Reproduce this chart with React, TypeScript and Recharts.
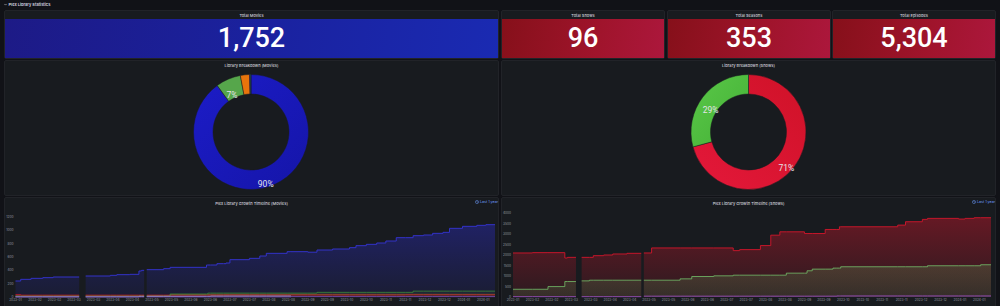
import React from 'react';
import { PieChart, Pie, Cell, AreaChart, Area, XAxis, YAxis } from 'recharts';

const FONT = 'Inter, "Noto Sans", sans-serif';
const NUM_FONT = 'Roboto, Inter, sans-serif';

// stat row
const statTitles = ['Total Movies', 'Total Shows', 'Total Seasons', 'Total Episodes'];
const statValues = [1752, 96, 353, 5304];

// library breakdown pies
const movieLibraries = ['Movies', 'Kids Movies', '4K Movies', 'Documentaries', 'Concerts'];
const movieCounts = [1577, 123, 45, 4, 3];
const movieColors = ['#1818b6', '#56a64b', '#e8740c', '#8e4fc4', '#1f9e8e'];
const showLibraries = ['TV Shows', 'Anime'];
const showCounts = [68, 28];

// timeline x axis (days into the last year)
const tickDays = [0, 15, 30, 45, 60, 75, 90, 105, 120, 135, 150, 165, 180, 195, 210, 225, 240, 255, 270, 285, 300, 315, 330, 345, 360];
const tickLabels = ['2023-01', '2023-02', '2023-02', '2023-03', '2023-03', '2023-04', '2023-04', '2023-05', '2023-05', '2023-06', '2023-06', '2023-07', '2023-07', '2023-08', '2023-08', '2023-09', '2023-09', '2023-10', '2023-10', '2023-11', '2023-11', '2023-12', '2023-12', '2024-01', '2024-01'];
const lastDay = 369;
const movieYTicks = [0, 200, 400, 600, 800, 1000, 1200];
const showYTicks = [0, 500, 1000, 1500, 2000, 2500, 3000, 3500, 4000];

// movies timeline
const movieGaps = [[49, 54], [99, 101]];
const movAllDays = [0, 4, 12, 21, 29, 54, 73, 78, 88, 95, 97, 101, 114, 119, 147, 155, 162, 165, 180, 188, 193, 209, 225, 232, 244, 257, 262, 270, 278, 285, 293, 306, 314, 321, 329, 334, 344, 355, 362];
const movAllValues = [240, 265, 280, 290, 300, 315, 325, 335, 340, 390, 400, 410, 425, 445, 480, 500, 510, 560, 580, 615, 655, 680, 672, 705, 720, 740, 770, 790, 810, 840, 890, 920, 930, 955, 970, 1030, 1060, 1075, 1085];
const movRedDays = [0, 4, 160, 300];
const movRedValues = [38, 28, 30, 33];
const movGreenDays = [0, 119, 148, 232, 306];
const movGreenValues = [12, 45, 58, 70, 88];
const movOrangeDays = [0, 119, 150];
const movOrangeValues = [20, 36, 40];
const movLavDays = [0, 95, 150];
const movLavValues = [3, 10, 14];
const movPurpleDays = [0, 212];
const movPurpleValues = [1, 6];

// shows timeline
const showGaps = [[48.6, 53], [99, 101]];
const shRedDays = [0, 15, 40, 42, 62, 70, 77, 88, 101, 107, 170, 175, 191, 199, 206, 225, 241, 252, 297, 303, 316, 320, 344, 349, 356];
const shRedValues = [2096, 2112, 1856, 1888, 1968, 2000, 2048, 2080, 2096, 2336, 2208, 2256, 2448, 2944, 3104, 3024, 3216, 3344, 3424, 3584, 3696, 3744, 3712, 3744, 3776];
const shGreenDays = [0, 27, 40, 53, 59, 129, 138, 155, 170, 211, 227, 231, 247, 253, 320, 361];
const shGreenValues = [368, 496, 736, 768, 800, 864, 976, 1008, 1040, 1136, 1248, 1328, 1376, 1440, 1488, 1536];
const shPurpleDays = [0, 101, 250];
const shPurpleValues = [15, 40, 50];

type Series = { key: string; days: number[]; values: number[]; end?: number };

const movieSeries: Series[] = [
  { key: 'movies', days: movAllDays, values: movAllValues },
  { key: 'orange', days: movOrangeDays, values: movOrangeValues },
  { key: 'red', days: movRedDays, values: movRedValues },
  { key: 'green', days: movGreenDays, values: movGreenValues },
  { key: 'lavender', days: movLavDays, values: movLavValues, end: 212 },
  { key: 'purple', days: movPurpleDays, values: movPurpleValues },
];
const showSeries: Series[] = [
  { key: 'episodes', days: shRedDays, values: shRedValues },
  { key: 'seasons', days: shGreenDays, values: shGreenValues },
  { key: 'shows', days: shPurpleDays, values: shPurpleValues },
];

// step-hold table with null rows inside the scrape gaps
function buildRows(series: Series[], gaps: number[][]) {
  const set = new Set<number>([lastDay]);
  series.forEach((s) => {
    s.days.forEach((d) => set.add(d));
    if (s.end !== undefined) set.add(s.end);
  });
  gaps.forEach(([a, b]) => { set.add(a); set.add((a + b) / 2); set.add(b); });
  const days = Array.from(set).sort((a, b) => a - b);
  return days.map((d) => {
    const row: any = { day: d };
    const inGap = gaps.some(([a, b]) => d > a && d < b);
    series.forEach((s) => {
      if (inGap || (s.end !== undefined && d > s.end)) { row[s.key] = null; return; }
      let v: number | null = null;
      s.days.forEach((sd, i) => { if (sd <= d) v = s.values[i]; });
      row[s.key] = v;
    });
    return row;
  });
}

const movieRows = buildRows(movieSeries, movieGaps);
const showRows = buildRows(showSeries, showGaps);

const RAD = Math.PI / 180;
const pctLabel = (p: any) => {
  const { cx, cy, midAngle, innerRadius, outerRadius, percent } = p;
  if (percent < 0.05) return null;
  const r = (innerRadius + outerRadius) / 2;
  const x = cx + r * Math.cos(-midAngle * RAD);
  const y = cy + r * Math.sin(-midAngle * RAD) + 7;
  return (
    <text x={x} y={y} fill="#e4e4e8" fontSize={8.5} fontFamily={NUM_FONT} textAnchor="middle" dominantBaseline="central">
      {`${Math.round(percent * 100)}%`}
    </text>
  );
};

const Panel = ({ left, top, width, height, title, titleTop = 1.5 }: any) => (
  <div style={{ position: 'absolute', left, top, width, height, background: '#181b1f', border: '1px solid #212328', borderRadius: 2, boxSizing: 'border-box' }}>
    <div style={{ position: 'absolute', left: 0, right: 0, top: titleTop, textAlign: 'center', fontSize: 4, lineHeight: '5px', color: '#d0d0da', fontWeight: 500, fontFamily: FONT }}>{title}</div>
  </div>
);

const statBoxes = [
  { left: 4, width: 495, bg: 'linear-gradient(100deg, #1d1a86 0%, #1a22a0 55%, #1a2ab2 100%)' },
  { left: 501, width: 164, bg: 'linear-gradient(100deg, #86101a 0%, #a0142c 60%, #ac173c 100%)' },
  { left: 667, width: 164, bg: 'linear-gradient(100deg, #86101a 0%, #a0142c 60%, #ac173c 100%)' },
  { left: 832, width: 164, bg: 'linear-gradient(100deg, #86101a 0%, #a0142c 60%, #ac173c 100%)' },
];

const tickStyle = { fontSize: 3.2, fill: '#9a9ba3', fontFamily: FONT };

const LastYear = ({ right }: any) => (
  <div style={{ position: 'absolute', left: right - 22, top: 200, display: 'flex', alignItems: 'center', gap: 1, color: '#6e9fff', fontSize: 3.6, lineHeight: '4px', fontFamily: FONT }}>
    <svg width={4} height={4} viewBox="0 0 10 10"><circle cx={5} cy={5} r={4} fill="none" stroke="#6e9fff" strokeWidth={1.2} /><path d="M5 2.5V5l1.8 1.2" fill="none" stroke="#6e9fff" strokeWidth={1.2} /></svg>
    <span>Last 1 year</span>
  </div>
);

export default function App() {
  return (
    <div style={{ position: 'fixed', left: 0, top: 0, width: 1000, height: 306, background: '#111217', overflow: 'hidden', fontFamily: FONT }}>
      {/* row header */}
      <div style={{ position: 'absolute', left: 4, top: 2, display: 'flex', alignItems: 'center', gap: 1.5, color: '#d8d8e0', fontSize: 4, lineHeight: '5px', fontWeight: 600 }}>
        <svg width={3} height={3} viewBox="0 0 10 10"><path d="M1 3l4 4 4-4" fill="none" stroke="#d8d8e0" strokeWidth={1.8} /></svg>
        <span>Plex Library Statistics</span>
      </div>

      {/* stat panels */}
      {statBoxes.map((b, i) => (
        <React.Fragment key={statTitles[i]}>
          <Panel left={b.left} top={10} width={b.width} height={49} title={statTitles[i]} />
          <div style={{ position: 'absolute', left: b.left + 1, top: 19, width: b.width - 2, height: 38.5, background: b.bg, display: 'flex', alignItems: 'center', justifyContent: 'center', color: '#ffffff', fontFamily: NUM_FONT, fontWeight: 500, fontSize: 27, lineHeight: '28px' }}>
            {statValues[i].toLocaleString('en-US')}
          </div>
        </React.Fragment>
      ))}

      {/* pie panels */}
      <Panel left={4} top={60} width={495} height={136} title="Library Breakdown (Movies)" titleTop={1.5} />
      <Panel left={501} top={60} width={495} height={136} title="Library Breakdown (Shows)" titleTop={1.5} />
      <div style={{ position: 'absolute', left: 4, top: 60 }}>
        <PieChart width={495} height={136} margin={{ top: 0, right: 0, bottom: 0, left: 0 }}>
          <defs>
            <linearGradient id="pMovBlue" x1="0" y1="0" x2="1" y2="1">
              <stop offset="0%" stopColor="#1c1cc8" />
              <stop offset="100%" stopColor="#1515a8" />
            </linearGradient>
          </defs>
          <Pie
            data={movieLibraries.map((name, i) => ({ name, value: movieCounts[i] }))}
            dataKey="value"
            cx={247}
            cy={72}
            innerRadius={38}
            outerRadius={57.5}
            startAngle={90}
            endAngle={-270}
            stroke="#181b1f"
            strokeWidth={0.5}
            label={pctLabel}
            labelLine={false}
            isAnimationActive={false}
          >
            {movieColors.map((c, i) => <Cell key={i} fill={i === 0 ? 'url(#pMovBlue)' : c} />)}
          </Pie>
        </PieChart>
      </div>
      <div style={{ position: 'absolute', left: 501, top: 60 }}>
        <PieChart width={495} height={136} margin={{ top: 0, right: 0, bottom: 0, left: 0 }}>
          <defs>
            <linearGradient id="pShowRed" x1="1" y1="0" x2="0" y2="1">
              <stop offset="0%" stopColor="#cf1228" />
              <stop offset="100%" stopColor="#e4183a" />
            </linearGradient>
            <linearGradient id="pShowGreen" x1="0" y1="0" x2="1" y2="1">
              <stop offset="0%" stopColor="#5ac848" />
              <stop offset="100%" stopColor="#44b036" />
            </linearGradient>
          </defs>
          <Pie
            data={showLibraries.map((name, i) => ({ name, value: showCounts[i] }))}
            dataKey="value"
            cx={247.5}
            cy={72}
            innerRadius={38}
            outerRadius={57.5}
            startAngle={90}
            endAngle={-270}
            stroke="#181b1f"
            strokeWidth={0.5}
            label={pctLabel}
            labelLine={false}
            isAnimationActive={false}
          >
            <Cell fill="url(#pShowRed)" />
            <Cell fill="url(#pShowGreen)" />
          </Pie>
        </PieChart>
      </div>

      {/* growth timelines */}
      <Panel left={4} top={197} width={495} height={120} title="Plex Library Growth Timeline (Movies)" titleTop={2.5} />
      <Panel left={501} top={197} width={495} height={120} title="Plex Library Growth Timeline (Shows)" titleTop={2.5} />
      <LastYear right={497} />
      <LastYear right={994} />

      <div style={{ position: 'absolute', left: 0, top: 210 }}>
        <AreaChart width={500} height={96} data={movieRows} margin={{ top: 7, right: 5, bottom: 1, left: 3.5 }}>
          <defs>
            <linearGradient id="aMovBlue" x1="0" y1="0" x2="0" y2="1">
              <stop offset="0%" stopColor="#2a2ab8" stopOpacity={0.45} />
              <stop offset="100%" stopColor="#2a2ab8" stopOpacity={0.13} />
            </linearGradient>
          </defs>
          <XAxis dataKey="day" type="number" domain={[0, lastDay]} ticks={tickDays} interval={0} tickFormatter={(v: number) => tickLabels[tickDays.indexOf(v)]} tick={tickStyle} axisLine={false} tickLine={false} tickSize={0} tickMargin={2} height={8} />
          <YAxis type="number" domain={[0, 1200]} ticks={movieYTicks} interval={0} tick={tickStyle} axisLine={false} tickLine={false} tickSize={0} tickMargin={2} width={12} />
          <Area type="stepAfter" dataKey="movies" stroke="#3232c8" strokeWidth={1} fill="url(#aMovBlue)" fillOpacity={1} dot={false} activeDot={false} isAnimationActive={false} />
          <Area type="stepAfter" dataKey="orange" stroke="#8a5a2a" strokeWidth={0.8} fill="#e8740c" fillOpacity={0.08} dot={false} activeDot={false} isAnimationActive={false} />
          <Area type="stepAfter" dataKey="red" stroke="#c4162a" strokeWidth={0.8} fill="#c4162a" fillOpacity={0.1} dot={false} activeDot={false} isAnimationActive={false} />
          <Area type="stepAfter" dataKey="green" stroke="#3f8a3a" strokeWidth={0.8} fill="#56a64b" fillOpacity={0.08} dot={false} activeDot={false} isAnimationActive={false} />
          <Area type="stepAfter" dataKey="lavender" stroke="#b9b6f2" strokeWidth={0.8} fill="#b9b6f2" fillOpacity={0.1} dot={false} activeDot={false} isAnimationActive={false} />
          <Area type="stepAfter" dataKey="purple" stroke="#7a4ab8" strokeWidth={0.8} fill="#7a4ab8" fillOpacity={0.1} dot={false} activeDot={false} isAnimationActive={false} />
        </AreaChart>
      </div>

      <div style={{ position: 'absolute', left: 500, top: 206 }}>
        <AreaChart width={500} height={100} data={showRows} margin={{ top: 7, right: 9, bottom: 1, left: 1 }}>
          <defs>
            <linearGradient id="aShowRed" x1="0" y1="0" x2="0" y2="1">
              <stop offset="0%" stopColor="#c4162a" stopOpacity={0.45} />
              <stop offset="100%" stopColor="#c4162a" stopOpacity={0.12} />
            </linearGradient>
            <linearGradient id="aShowGreen" x1="0" y1="0" x2="0" y2="1">
              <stop offset="0%" stopColor="#73bf69" stopOpacity={0.2} />
              <stop offset="100%" stopColor="#73bf69" stopOpacity={0.12} />
            </linearGradient>
          </defs>
          <XAxis dataKey="day" type="number" domain={[0, lastDay]} ticks={tickDays} interval={0} tickFormatter={(v: number) => tickLabels[tickDays.indexOf(v)]} tick={tickStyle} axisLine={false} tickLine={false} tickSize={0} tickMargin={2} height={8} />
          <YAxis type="number" domain={[0, 4000]} ticks={showYTicks} interval={0} tick={tickStyle} axisLine={false} tickLine={false} tickSize={0} tickMargin={2} width={12} />
          <Area type="stepAfter" dataKey="episodes" stroke="#c4162a" strokeWidth={1} fill="url(#aShowRed)" fillOpacity={1} dot={false} activeDot={false} isAnimationActive={false} />
          <Area type="stepAfter" dataKey="seasons" stroke="#73bf69" strokeWidth={0.8} fill="url(#aShowGreen)" fillOpacity={1} dot={false} activeDot={false} isAnimationActive={false} />
          <Area type="stepAfter" dataKey="shows" stroke="#a352cc" strokeWidth={0.8} fill="#a352cc" fillOpacity={0.1} dot={false} activeDot={false} isAnimationActive={false} />
        </AreaChart>
      </div>
    </div>
  );
}
